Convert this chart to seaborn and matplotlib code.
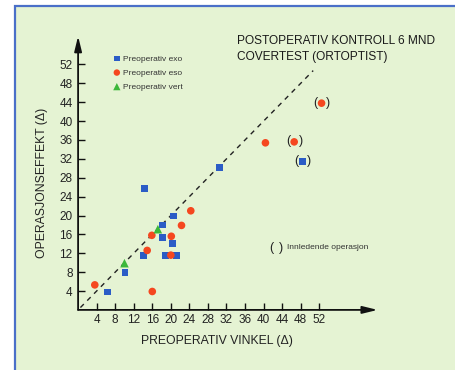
import numpy as np
import pandas as pd
import matplotlib
matplotlib.use("Agg")
import matplotlib.pyplot as plt
import seaborn as sns
from matplotlib.patches import Rectangle

# ---- data ----
exo_x = [6.3, 10.1, 14.1, 14.3, 18.2, 18.2, 18.8, 20.3, 20.5, 21.2, 30.5, 48.4]
exo_y = [3.8, 7.9, 11.6, 25.7, 18.0, 15.3, 11.6, 14.0, 19.9, 11.6, 30.1, 31.5]
exo_paren = [0, 0, 0, 0, 0, 0, 0, 0, 0, 0, 0, 1]

eso_x = [3.6, 16.0, 14.9, 15.9, 20.1, 20.0, 22.3, 24.3, 40.4, 46.6, 52.5]
eso_y = [5.3, 3.9, 12.6, 15.8, 15.6, 11.6, 17.9, 21.0, 35.4, 35.6, 43.8]
eso_paren = [0, 0, 0, 0, 0, 0, 0, 0, 0, 1, 1]

vert_x = [10.0, 17.2]
vert_y = [9.9, 17.1]
vert_paren = [0, 0]

series_names = ["Preoperativ exo", "Preoperativ eso", "Preoperativ vert"]
tick_values = list(range(4, 53, 4))
diag_x = [0.5, 50.7]
diag_y = [0.5, 50.7]

title_lines = ["POSTOPERATIV KONTROLL 6 MND", "COVERTEST (ORTOPTIST)"]
xlabel = "PREOPERATIV VINKEL (\u0394)"
ylabel = "OPERASJONSEFFEKT (\u0394)"
note = "Innledende operasjon"

df = pd.DataFrame({
    "x": exo_x + eso_x + vert_x,
    "y": exo_y + eso_y + vert_y,
    "type": [series_names[0]] * len(exo_x) + [series_names[1]] * len(eso_x) + [series_names[2]] * len(vert_x),
    "paren": exo_paren + eso_paren + vert_paren,
})

sns.set_style("ticks")
plt.rcParams["font.family"] = ["Liberation Sans", "DejaVu Sans"]

W, H = 456, 370
fig = plt.figure(figsize=(W / 100, H / 100), dpi=100)
fig.patch.set_facecolor("white")

# green panel with blue border
panel = Rectangle((15 / W, -0.1), 1.2, 1 - 6 / H + 0.1, transform=fig.transFigure,
                  facecolor="#e5f3d3", edgecolor="#4a6fc8", lw=1.6, zorder=-10)
fig.patches.append(panel)

x0, y0 = 78.1, 309.9
sx, sy = 4.637, 4.72
xmax, ymax = 65, 58
ax = fig.add_axes([x0 / W, (H - y0) / H, xmax * sx / W, ymax * sy / H])
ax.patch.set_alpha(0)
ax.set_xlim(0, xmax)
ax.set_ylim(0, ymax)

palette = {series_names[0]: "#2b5cc6", series_names[1]: "#f5471f", series_names[2]: "#3cb83a"}
markers = {series_names[0]: "s", series_names[1]: "o", series_names[2]: "^"}
sizes = {series_names[0]: 24, series_names[1]: 30, series_names[2]: 38}

for name in series_names:
    sub = df[df["type"] == name]
    sns.scatterplot(data=sub, x="x", y="y", color=palette[name], marker=markers[name],
                    s=sizes[name], edgecolor="none", ax=ax, label=name, zorder=5, clip_on=False)

# parentheses around points from initial operation
for _, r in df[df["paren"] == 1].iterrows():
    ax.annotate("(", (r["x"], r["y"]), xytext=(-4.3, 0.3), textcoords="offset points",
                ha="center", va="center", fontsize=9, color="#222222", zorder=6)
    ax.annotate(")", (r["x"], r["y"]), xytext=(4.6, 0.3), textcoords="offset points",
                ha="center", va="center", fontsize=9, color="#222222", zorder=6)

# dashed reference line
ax.plot(diag_x, diag_y, color="#222222", lw=1.0, ls=(0, (3.5, 3.5)), zorder=3)

# axes with arrows
for s in ax.spines.values():
    s.set_visible(False)
ax.annotate("", xy=(64.6, 0), xytext=(0, 0), annotation_clip=False,
            arrowprops=dict(arrowstyle="-|>,head_length=0.9,head_width=0.22", color="#111111", lw=1.3,
                            shrinkA=0, shrinkB=0))
ax.annotate("", xy=(0, 58.0), xytext=(0, 0), annotation_clip=False,
            arrowprops=dict(arrowstyle="-|>,head_length=0.9,head_width=0.22", color="#111111", lw=1.3,
                            shrinkA=0, shrinkB=0))

ax.set_xticks(tick_values)
ax.set_yticks(tick_values)
ax.set_xticklabels([str(v) for v in tick_values])
ax.set_yticklabels([str(v) for v in tick_values])
ax.tick_params(axis="both", direction="in", length=5, width=1.0, color="#111111",
               labelsize=8.5, labelcolor="#222222", pad=3)
ax.tick_params(axis="y", pad=4)
ax.set_xlabel("")
ax.set_ylabel("")

leg = ax.legend(loc="upper left", bbox_to_anchor=(106 / W, 1 - 49 / H), bbox_transform=fig.transFigure,
                frameon=False, fontsize=6.0, handletextpad=0.15, labelspacing=0.75,
                handlelength=1.2, borderpad=0.2, markerscale=0.85)
for t in leg.get_texts():
    t.set_color("#333333")

# texts
fig.text(237 / W, 1 - 40.7 / H, title_lines[0], ha="left", va="center", fontsize=8.6, color="#1a1a1a")
fig.text(237 / W, 1 - 57.3 / H, title_lines[1], ha="left", va="center", fontsize=8.6, color="#1a1a1a")
fig.text(217 / W, 1 - 341 / H, xlabel, ha="center", va="center", fontsize=8.8, color="#222222")
fig.text(42 / W, 1 - 183 / H, ylabel, ha="center", va="center", fontsize=8.8, rotation=90, color="#222222")
fig.text(271 / W, 1 - 247.7 / H, "(", ha="center", va="center", fontsize=9, color="#222222")
fig.text(281 / W, 1 - 247.7 / H, ")", ha="center", va="center", fontsize=9, color="#222222")
fig.text(287 / W, 1 - 247.7 / H, note, ha="left", va="center", fontsize=6.0, color="#333333")

fig.savefig("out.png", dpi=100)
